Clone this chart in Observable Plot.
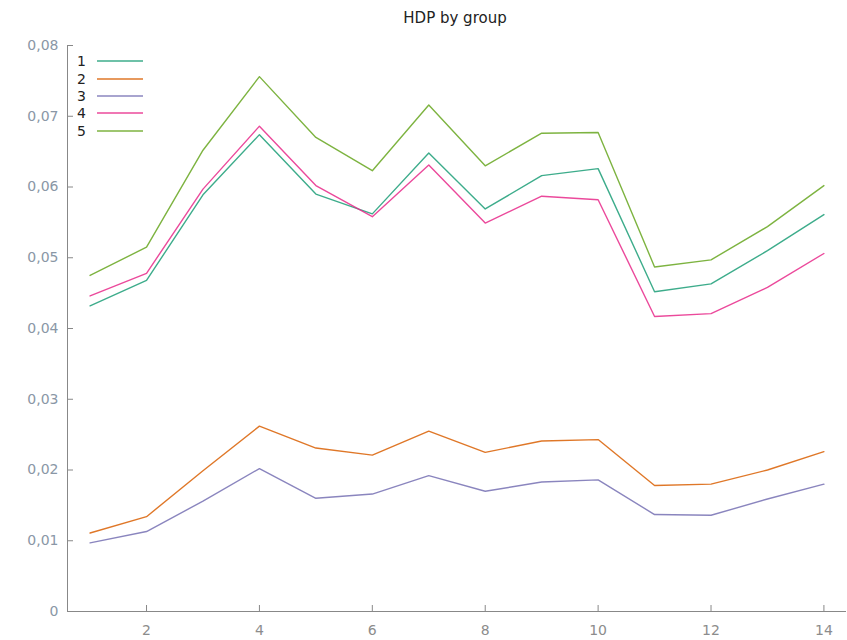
<!DOCTYPE html>
<html><head><meta charset="utf-8">
<script src="https://cdn.jsdelivr.net/npm/d3@7"></script>
<script src="https://cdn.jsdelivr.net/npm/@observablehq/plot@0.6"></script>
<style>
body{margin:0;background:#fff;font-family:"DejaVu Sans",Verdana,sans-serif;}
#wrap{position:relative;width:847px;height:640px;overflow:hidden;}
#title{height:36px;line-height:36px;font-size:15px;color:#222;text-align:center;padding-left:63px;box-sizing:border-box;width:847px;}
#legend{position:absolute;left:0;top:0;}
.lg{position:absolute;left:77px;font-size:14px;color:#222;height:18px;line-height:18px;display:flex;align-items:center;}
.lg span{display:inline-block;width:16px;}
.lg svg{display:block;}
</style></head>
<body><div id="wrap"><div id="title">HDP by group</div><div id="chart"></div><div id="legend"></div></div>
<script>
const xs = [1,2,3,4,5,6,7,8,9,10,11,12,13,14];
const groups = ["1","2","3","4","5"];
const s1 = [0.0432,0.0468,0.0589,0.0674,0.0590,0.0562,0.0648,0.0569,0.0616,0.0626,0.0452,0.0463,0.0510,0.0561];
const s2 = [0.0111,0.0134,0.0199,0.0262,0.0231,0.0221,0.0255,0.0225,0.0241,0.0243,0.0178,0.0180,0.0200,0.0226];
const s3 = [0.0097,0.0113,0.0156,0.0202,0.0160,0.0166,0.0192,0.0170,0.0183,0.0186,0.0137,0.0136,0.0159,0.0180];
const s4 = [0.0446,0.0478,0.0597,0.0686,0.0602,0.0558,0.0631,0.0549,0.0587,0.0582,0.0417,0.0421,0.0458,0.0506];
const s5 = [0.0475,0.0515,0.0652,0.0756,0.0670,0.0623,0.0716,0.0630,0.0676,0.0677,0.0487,0.0497,0.0544,0.0602];
const xTicks = [2,4,6,8,10,12,14];
const yTicks = [0,0.01,0.02,0.03,0.04,0.05,0.06,0.07,0.08];
const colors = ["#1b9e77","#d95f02","#7570b3","#e7298a","#66a61e"];

const series = [s1,s2,s3,s4,s5];
const data = [];
series.forEach((s,i)=>s.forEach((v,j)=>data.push({x:xs[j], y:v, g:groups[i]})));

const yfmt = v => v === 0 ? "0" : d3.format(".2f")(v).replace(".", ",");

const chart = Plot.plot({
  width: 847, height: 604,
  marginLeft: 67, marginRight: 1, marginTop: 9, marginBottom: 29,
  style: {fontFamily: '"DejaVu Sans", Verdana, sans-serif', fontSize: "14px", background: "#fff"},
  x: {domain: [0.6, 14.4]},
  y: {domain: [0, 0.08]},
  color: {domain: groups, range: colors},
  marks: [
    Plot.ruleY([0], {stroke: "#888"}),
    Plot.ruleX([0.6], {stroke: "#888"}),
    Plot.axisX({ticks: xTicks, tickSize: -6, tickPadding: 20, stroke: "#888", color: "#8c8c8c", label: null}),
    Plot.axisY({ticks: yTicks, tickSize: -6, tickPadding: 15, tickFormat: yfmt, stroke: "#888", color: "#8a97a6", label: null}),
    Plot.line(data, {x: "x", y: "y", z: "g", stroke: "g", strokeWidth: 1.4, strokeOpacity: 0.85})
  ]
});
document.getElementById("chart").appendChild(chart);

const leg = document.getElementById("legend");
const tops = [52, 70, 87, 104, 122];
groups.forEach((g,i)=>{
  const d = document.createElement("div");
  d.className = "lg";
  d.style.top = tops[i] + "px";
  d.innerHTML = `<span>${g}</span><svg width="50" height="4"><line x1="4" y1="2" x2="50" y2="2" stroke="${colors[i]}" stroke-opacity="0.85" stroke-width="1.4"/></svg>`;
  leg.appendChild(d);
});
</script></body></html>
